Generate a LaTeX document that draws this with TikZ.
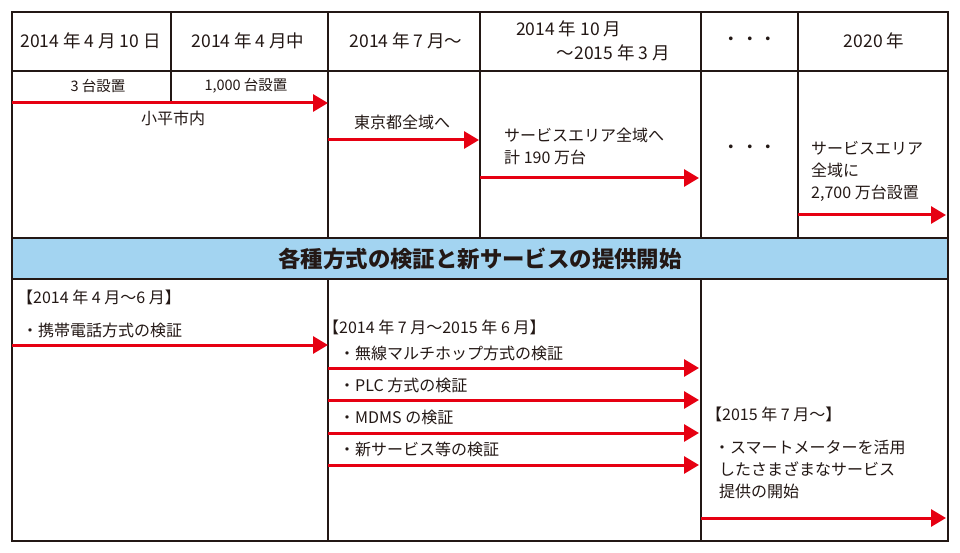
\documentclass[tikz,border=0pt]{standalone}
\usepackage{fontspec}
\setmainfont{Noto Sans CJK JP}
\usetikzlibrary{arrows.meta}
\definecolor{ink}{HTML}{231815}
\definecolor{redarrow}{HTML}{E60012}
\definecolor{bandblue}{HTML}{A3D4F1}
\begin{document}
\begin{tikzpicture}[x=1pt,y=-1pt,
 gridline/.style={draw=ink,line width=2pt},
 redarr/.style={draw=redarrow,line width=3pt,-{Triangle[length=15pt,width=17pt]}},
 txt/.style={inner sep=0pt,font=\fontsize{16}{22}\selectfont,text=ink},
 hdr/.style={inner sep=0pt,font=\fontsize{17.5}{23}\selectfont,text=ink},
 smalltxt/.style={inner sep=0pt,font=\fontsize{14.5}{18}\selectfont,text=ink},
 titletxt/.style={inner sep=0pt,font=\fontsize{22.4}{26}\selectfont\bfseries,text=ink},
]
\useasboundingbox (0,0) rectangle (960,553);
\fill[white] (0,0) rectangle (960,553);
% band
\fill[bandblue] (12,238) rectangle (948,279);
% grid
\draw[gridline] (12,12) rectangle (948,541);
\draw[gridline] (12,71) -- (948,71);
\draw[gridline] (12,238) -- (948,238);
\draw[gridline] (12,279) -- (948,279);
\draw[gridline] (171,12) -- (171,101);
\draw[gridline] (328,12) -- (328,238);
\draw[gridline] (480,12) -- (480,238);
\draw[gridline] (701,12) -- (701,238);
\draw[gridline] (798,12) -- (798,238);
\draw[gridline] (328,279) -- (328,541);
\draw[gridline] (701,279) -- (701,541);
% header texts
\node[hdr] (h1) at (90.5,41) {2014 年 4 月 10 日};
\node[hdr] (h2) at (248,41) {2014 年 4 月中};
\node[hdr] (h3) at (406,41) {2014 年 7 月〜};
\node[hdr,anchor=west] (h4a) at (516,29) {2014 年 10 月};
\node[hdr,anchor=east] (h4b) at (670,53) {〜2015 年 3 月};
\node[hdr] (h5) at (750,41) {・\hspace{1pt}・\hspace{1pt}・};
\node[hdr] (h6) at (874,41) {2020 年};
% top row texts
\node[smalltxt] (t1) at (98,86) {3 台設置};
\node[smalltxt] (t2) at (246,86) {1,000 台設置};
\node[txt] (t3) at (173,118) {小平市内};
\node[txt] (t4) at (402,122) {東京都全域へ};
\node[txt,anchor=north west,align=left] (t5) at (504,128) {サービスエリア全域へ\\計 190 万台};
\node[hdr] (t6) at (750,149) {・\hspace{1pt}・\hspace{1pt}・};
\node[txt,anchor=north west,align=left] (t7) at (811,141) {サービスエリア\\全域に\\2,700 万台設置};
% title
\node[titletxt] (title) at (480,259) {各種方式の検証と新サービスの提供開始};
% bottom texts
\node[txt,anchor=west] (b1) at (17,297) {【2014 年 4 月〜6 月】};
\node[txt,anchor=west] (b2) at (22,330) {・携帯電話方式の検証};
\node[txt,anchor=west] (b3) at (323,327) {【2014 年 7 月〜2015 年 6 月】};
\node[txt,anchor=west] (b4) at (339,353) {・無線マルチホップ方式の検証};
\node[txt,anchor=west] (b5) at (339,385) {・PLC 方式の検証};
\node[txt,anchor=west] (b6) at (339,417) {・MDMS の検証};
\node[txt,anchor=west] (b7) at (339,449) {・新サービス等の検証};
\node[txt,anchor=west] (b8) at (706,414) {【2015 年 7 月〜】};
\node[txt,anchor=north west,align=left] (b9) at (714,440) {・スマートメーターを活用\\\hspace{5pt}したさまざまなサービス\\\hspace{5pt}提供の開始};
% arrow coordinates
\coordinate (a1s) at (12,103);   \coordinate (a1e) at (328,103);
\coordinate (a2s) at (328,140);  \coordinate (a2e) at (479,140);
\coordinate (a3s) at (480,178);  \coordinate (a3e) at (699,178);
\coordinate (a4s) at (798,215);  \coordinate (a4e) at (946,215);
\coordinate (a5s) at (12,345);   \coordinate (a5e) at (328,345);
\coordinate (a6s) at (328,368);  \coordinate (a6e) at (699,368);
\coordinate (a7s) at (328,400);  \coordinate (a7e) at (699,400);
\coordinate (a8s) at (328,433);  \coordinate (a8e) at (699,433);
\coordinate (a9s) at (328,465);  \coordinate (a9e) at (699,465);
\coordinate (a10s) at (701,518); \coordinate (a10e) at (946,518);
\foreach \i in {1,...,10} {\draw[redarr] (a\i s) -- (a\i e);}
\end{tikzpicture}
\end{document}
